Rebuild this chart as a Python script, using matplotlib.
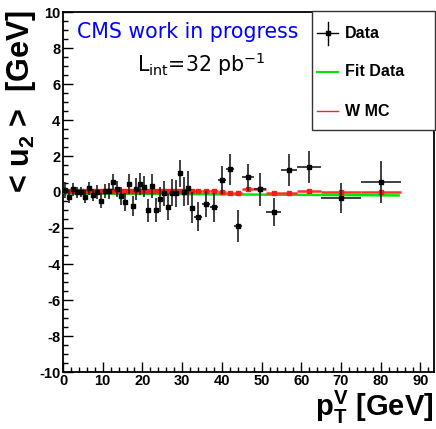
import numpy as np
import matplotlib
matplotlib.use("Agg")
import matplotlib.pyplot as plt
from matplotlib.lines import Line2D
from matplotlib.patches import Rectangle

plt.rcParams["font.family"] = ["Liberation Sans", "DejaVu Sans"]
plt.rcParams["mathtext.default"] = "regular"
plt.rcParams["axes.unicode_minus"] = False

# Bin edges in pT^V [GeV]
bin_edges = [0, 1, 2, 3, 4, 5, 6, 7, 8, 9, 10, 11, 12, 13, 14, 15, 16, 17, 18, 19,
             20, 21, 22, 23, 24, 25, 26, 27, 28, 29, 30, 31, 32, 33,
             35, 37, 39, 41, 43, 45, 48, 51, 55, 59, 65, 75, 85]

# Mean u2 in data and its uncertainty per bin [GeV]
data_u2 = [0.10, -0.26, 0.15, -0.02, 0.00, -0.26, 0.20, -0.17, 0.00, -0.48,
           0.05, 0.07, 0.54, 0.15, -0.20, -0.54, 0.43, -0.78, 0.15, 0.45,
           0.30, -1.02, 0.33, -1.00, -0.40, -0.07, -0.83, -0.05, -0.07, 1.04,
           0.02, 0.20, -0.87,
           -1.37, -0.67, -0.85, 0.67, 1.26, -1.90,
           0.81, 0.15, -1.11, 1.22, 1.40, -0.33, 0.54]
data_err = [0.45, 0.35, 0.35, 0.30, 0.30, 0.35, 0.35, 0.35, 0.40, 0.40,
            0.40, 0.45, 0.45, 0.45, 0.50, 0.50, 0.55, 0.55, 0.60, 0.60,
            0.60, 0.65, 0.65, 0.65, 0.70, 0.70, 0.70, 0.75, 0.75, 0.75,
            0.80, 0.95, 0.88,
            0.79, 0.74, 0.80, 0.76, 0.86, 0.88,
            0.76, 0.93, 0.79, 0.88, 0.90, 0.85, 1.17]

# W Monte Carlo prediction per bin [GeV]
mc_u2 = [0.08, 0.06, 0.05, 0.07, 0.04, 0.05, 0.06, 0.03, 0.05, 0.04,
         0.06, 0.05, 0.03, 0.05, 0.04, 0.06, 0.05, 0.04, 0.07, 0.05,
         0.03, 0.06, 0.05, 0.04, 0.06, 0.05, 0.03, 0.08, 0.05, 0.04,
         0.06, 0.05, 0.03,
         0.04, 0.06, 0.05, -0.02, -0.07, -0.05,
         0.15, 0.18, -0.05, -0.06, 0.07, -0.02, 0.02]
mc_err = [0.03] * 33 + [0.04] * 6 + [0.05] * 7

# Linear fit to the data
fit_x = [0.0, 84.5]
fit_y = [-0.08, -0.19]

edges = np.array(bin_edges, dtype=float)
centers = 0.5 * (edges[:-1] + edges[1:])
half_w = 0.5 * (edges[1:] - edges[:-1])

fig = plt.figure(figsize=(4.36, 4.29), dpi=100)
ax = fig.add_axes([63 / 436, 1 - 372 / 429, 371 / 436, 360 / 429])

ax.plot(fit_x, fit_y, color="#00e600", lw=1.8, zorder=2)
ax.errorbar(centers, mc_u2, xerr=half_w, yerr=mc_err, fmt="s", ms=2.5,
            color="#ff1a1a", ecolor="#ff3030", elinewidth=1.8, capsize=0,
            zorder=3)
ax.errorbar(centers, data_u2, xerr=half_w, yerr=data_err, fmt="s", ms=2.5,
            color="black", ecolor="#202020", elinewidth=1.2, capsize=0,
            zorder=4)

ax.set_xlim(0, 93.4)
ax.set_ylim(-10, 10)
ax.set_xticks(np.arange(0, 91, 10))
ax.set_xticks(np.arange(0, 93, 2), minor=True)
ax.set_yticks(np.arange(-10, 11, 2))
ax.set_yticks(np.arange(-10, 10.01, 0.5), minor=True)
ax.tick_params(which="both", direction="in", top=False, right=False,
               width=1.0, labelsize=10.5)
ax.tick_params(which="major", length=7)
ax.tick_params(which="minor", length=3.5)
ax.tick_params(axis="y", pad=2)
ax.tick_params(axis="x", pad=1.5)
for lab in ax.get_xticklabels() + ax.get_yticklabels():
    lab.set_fontweight("bold")
for sp in ax.spines.values():
    sp.set_linewidth(1.3)

# Legend box
lx0, ly0 = (312 - 63) / 371, (372 - 130) / 360
ax.add_patch(Rectangle((lx0, ly0), 1.0 - lx0 + 0.003, 1.0 - ly0 + 0.002,
                       transform=ax.transAxes, facecolor="white",
                       edgecolor="#333333", lw=1.0, zorder=6, clip_on=False))
hx0, hx1 = (317 - 63) / 371, (338 - 63) / 371
tx = (345 - 63) / 371
rows = [(372 - 33) / 360, (372 - 72) / 360, (372 - 111) / 360]
ax.add_line(Line2D([hx0, hx1], [rows[0], rows[0]], transform=ax.transAxes,
                   color="black", lw=1.0, zorder=7))
ax.add_line(Line2D([(hx0 + hx1) / 2] * 2, [rows[0] - 0.033, rows[0] + 0.03],
                   transform=ax.transAxes, color="black", lw=1.0, zorder=7))
ax.add_line(Line2D([(hx0 + hx1) / 2], [rows[0]], transform=ax.transAxes,
                   marker="s", ms=2.5, color="black", zorder=7))
ax.add_line(Line2D([hx0, hx1], [rows[1], rows[1]], transform=ax.transAxes,
                   color="#00e600", lw=1.5, zorder=7))
ax.add_line(Line2D([hx0, hx1], [rows[2], rows[2]], transform=ax.transAxes,
                   color="#ff2020", lw=1.0, zorder=7))
for y, txt in zip(rows, ["Data", "Fit Data", "W MC"]):
    ax.text(tx, y, txt, transform=ax.transAxes, ha="left", va="center",
            fontsize=11.5, fontweight="bold", zorder=7)

fig.text(77 / 436, 1 - 38 / 429, "CMS work in progress", color="#0000ff",
         fontsize=14.8, family=["DejaVu Sans"], ha="left", va="baseline")
fig.text(137 / 436, 1 - 72 / 429, r"$L_{int}$=32 pb$^{-1}$", color="black",
         fontsize=14.8, family=["DejaVu Sans"], ha="left", va="baseline")

fig.text(21.5 / 436, 1 - 10 / 429, r"< u$_{2}$ >  [GeV]", rotation=90,
         ha="center", va="top", fontsize=22, fontweight="bold")
fig.text(434 / 436, 1 - 416 / 429, r"$p_{T}^{V}$ [GeV]", ha="right",
         va="baseline", fontsize=21, fontweight="bold")

fig.savefig("out.png", dpi=100)
